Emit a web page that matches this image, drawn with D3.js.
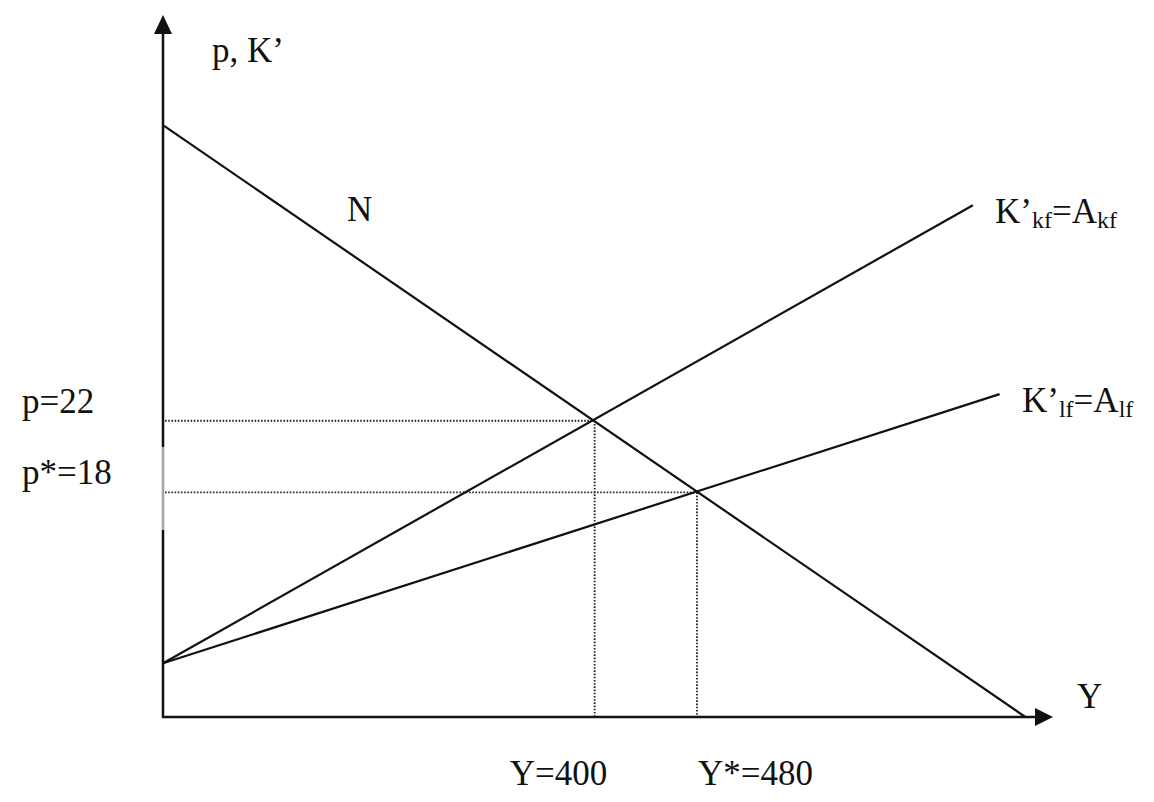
<!DOCTYPE html>
<html>
<head>
<meta charset="utf-8">
<script src="https://cdn.jsdelivr.net/npm/d3@7/dist/d3.min.js"></script>
<style>
  html, body { margin: 0; padding: 0; background: #fff; }
  svg { display: block; }
  text { font-family: "Liberation Serif", "Times New Roman", serif; fill: #111; }
</style>
</head>
<body>
<svg id="chart" width="1154" height="802"></svg>
<script>
// ---- data (abstract diagram units: axes run 0..100) ----
const curveNames = ["N", "K'kf", "K'lf"];
const demandN   = [{x: 0, y: 84.3}, {x: 96.9, y: 0}];
const supplyKkf = [{x: 0, y: 7.65}, {x: 91.0, y: 72.9}];
const supplyKlf = [{x: 0, y: 7.65}, {x: 94.0, y: 46.0}];
// equilibrium guide points: [x, y] with their labels
const guideX      = [48.5, 60.0];
const guideY      = [42.2, 32.0];
const guideXLabels = ["Y=400", "Y*=480"];
const guideYLabels = ["p=22", "p*=18"];

const svg = d3.select("#chart");
const x = d3.scaleLinear().domain([0, 100]).range([163, 1053]);
const y = d3.scaleLinear().domain([0, 100]).range([717, 15]);

const line = d3.line().x(d => x(d.x)).y(d => y(d.y));

// ---- axes ----
const x0 = x(0), y0 = y(0);
const xTip = x(100), yTip = y(100);
svg.append("line").attr("x1", x0).attr("y1", y0 + 1).attr("x2", x0).attr("y2", yTip + 18)
  .attr("stroke", "#111").attr("stroke-width", 2.5);
// lighter segment on the vertical axis
svg.append("line").attr("x1", x0).attr("y1", 447).attr("x2", x0).attr("y2", 530)
  .attr("stroke", "#fff").attr("stroke-width", 3);
svg.append("line").attr("x1", x0).attr("y1", 447).attr("x2", x0).attr("y2", 530)
  .attr("stroke", "#777").attr("stroke-width", 1.3);
svg.append("line").attr("x1", x0 - 1).attr("y1", y0).attr("x2", xTip - 16).attr("y2", y0)
  .attr("stroke", "#111").attr("stroke-width", 2.5);
svg.append("path")
  .attr("d", `M${x0},${yTip} L${x0 - 9},${yTip + 19} L${x0 + 9},${yTip + 19} Z`)
  .attr("fill", "#111");
svg.append("path")
  .attr("d", `M${xTip},${y0} L${xTip - 18},${y0 - 9} L${xTip - 18},${y0 + 9} Z`)
  .attr("fill", "#111");

// ---- dotted guides ----
guideX.forEach((gx, i) => {
  const gy = guideY[i];
  svg.append("line").attr("x1", x0 + 2).attr("y1", y(gy)).attr("x2", x(gx)).attr("y2", y(gy))
    .attr("stroke", "#222").attr("stroke-width", 1.8).attr("stroke-dasharray", "1.6,1.6");
  svg.append("line").attr("x1", x(gx)).attr("y1", y(gy)).attr("x2", x(gx)).attr("y2", y0 - 1)
    .attr("stroke", "#222").attr("stroke-width", 1.8).attr("stroke-dasharray", "1.6,1.6");
});

// ---- curves ----
[demandN, supplyKkf, supplyKlf].forEach((pts, i) => {
  svg.append("path").datum(pts).attr("d", line)
    .attr("fill", "none").attr("stroke", "#111").attr("stroke-width", 2.2)
    .attr("class", "curve-" + i);
});

// ---- labels ----
const fs = 35;
svg.append("text").attr("x", 212).attr("y", 62).attr("font-size", fs).text("p, K’");
svg.append("text").attr("x", 347).attr("y", 221).attr("font-size", fs).text(curveNames[0]);
svg.append("text").attr("x", 1077).attr("y", 708).attr("font-size", fs).text("Y");

function subLabel(xp, yp, sub) {
  const t = svg.append("text").attr("x", xp).attr("y", yp).attr("font-size", fs);
  t.append("tspan").text("K’");
  t.append("tspan").attr("font-size", 24).attr("dy", 5).text(sub);
  t.append("tspan").attr("dy", -5).text("=A");
  t.append("tspan").attr("font-size", 24).attr("dy", 5).text(sub);
}
subLabel(995, 223, "kf");
subLabel(1022, 412, "lf");

guideYLabels.forEach((lab, i) => {
  svg.append("text").attr("x", 22).attr("y", y(guideY[i]) - 8)
    .attr("font-size", fs).text(lab);
});
guideXLabels.forEach((lab, i) => {
  svg.append("text").attr("x", x(guideX[i]) - 85 + i * 86).attr("y", 785)
    .attr("font-size", fs).text(lab);
});
</script>
</body>
</html>
